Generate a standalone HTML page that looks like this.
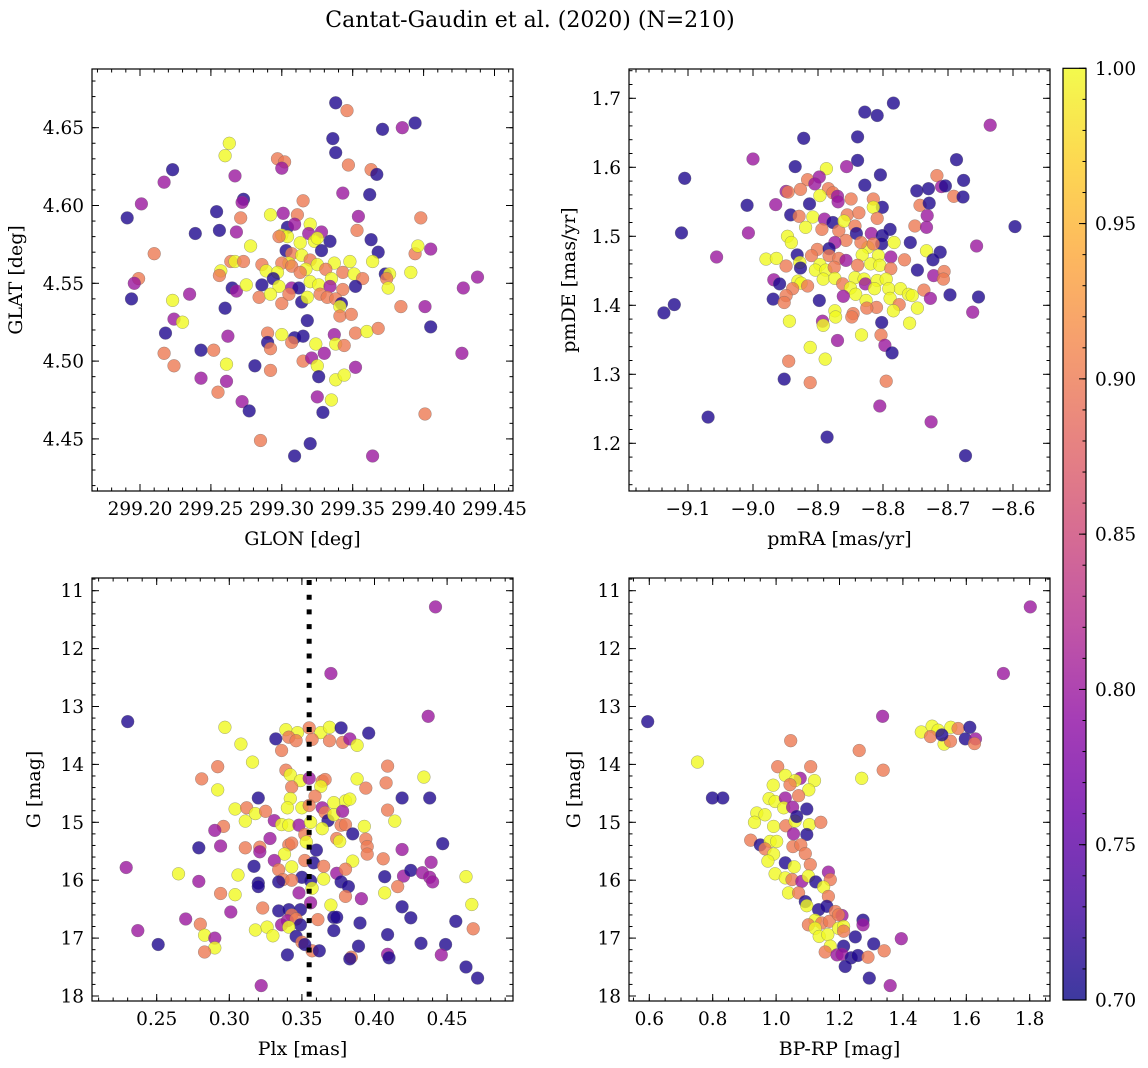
<!DOCTYPE html>
<html><head><meta charset="utf-8"><title>Cantat-Gaudin et al. (2020)</title>
<style>
html,body{margin:0;padding:0;background:#fff;}
svg{display:block;font-family:"DejaVu Serif","Liberation Serif",serif;}
</style></head>
<body>
<svg id="fig" width="1148" height="1068" viewBox="0 0 1148 1068" xmlns="http://www.w3.org/2000/svg">
<text x="530" y="27" font-size="22" text-anchor="middle" fill="#000">Cantat-Gaudin et al. (2020) (N=210)</text>
</svg>
<script>
// ---------------- Panel 1: GLON vs GLAT ----------------
const glon = [299.338,299.346,299.371,299.385,299.394,299.263,299.260,299.336,299.338,299.297,299.302,299.300,299.347,299.363,299.367,299.223,299.217,299.267,299.343,299.362,299.315,299.201,299.191,299.273,299.272,299.254,299.271,299.292,299.301,299.311,299.398,299.354,299.256,299.268,299.239,299.320,299.304,299.309,299.353,299.278,299.300,299.304,299.298,299.319,299.328,299.334,299.323,299.325,299.313,299.363,299.303,299.307,299.314,299.328,299.368,299.394,299.396,299.405,299.210,299.264,299.267,299.273,299.286,299.305,299.300,299.320,299.325,299.337,299.348,299.364,299.257,299.256,299.289,299.297,299.307,299.317,299.313,299.331,299.343,299.351,299.357,299.391,299.373,299.376,299.374,299.199,299.196,299.265,299.268,299.275,299.286,299.294,299.298,299.307,299.312,299.320,299.326,299.335,299.334,299.343,299.352,299.375,299.428,299.438,299.194,299.223,299.235,299.260,299.284,299.292,299.300,299.305,299.314,299.318,299.327,299.332,299.338,299.342,299.341,299.341,299.349,299.384,299.401,299.405,299.318,299.224,299.230,299.218,299.262,299.300,299.290,299.290,299.292,299.309,299.307,299.315,299.337,299.338,299.344,299.324,299.330,299.352,299.360,299.368,299.217,299.224,299.243,299.252,299.261,299.281,299.292,299.315,299.321,299.325,299.326,299.352,299.338,299.344,299.427,299.243,299.261,299.255,299.272,299.277,299.325,299.335,299.329,299.401,299.285,299.320,299.309,299.364];
const glat = [4.666,4.661,4.649,4.650,4.653,4.640,4.632,4.643,4.634,4.630,4.628,4.624,4.626,4.623,4.620,4.623,4.615,4.619,4.608,4.607,4.603,4.601,4.592,4.604,4.602,4.596,4.592,4.594,4.595,4.594,4.592,4.593,4.584,4.583,4.582,4.588,4.586,4.588,4.584,4.574,4.581,4.580,4.580,4.582,4.583,4.577,4.577,4.579,4.576,4.578,4.571,4.569,4.568,4.571,4.570,4.569,4.574,4.572,4.569,4.564,4.564,4.564,4.562,4.563,4.563,4.565,4.562,4.563,4.564,4.564,4.558,4.555,4.558,4.557,4.561,4.559,4.557,4.559,4.557,4.556,4.553,4.557,4.556,4.556,4.553,4.553,4.550,4.547,4.545,4.549,4.549,4.553,4.548,4.547,4.547,4.551,4.549,4.553,4.548,4.546,4.548,4.547,4.547,4.554,4.540,4.539,4.543,4.534,4.541,4.543,4.537,4.543,4.538,4.541,4.543,4.541,4.540,4.537,4.535,4.529,4.530,4.535,4.535,4.522,4.526,4.527,4.525,4.518,4.516,4.517,4.518,4.512,4.508,4.515,4.512,4.516,4.517,4.511,4.510,4.511,4.505,4.518,4.519,4.521,4.505,4.497,4.507,4.507,4.498,4.497,4.494,4.500,4.502,4.497,4.490,4.496,4.488,4.491,4.505,4.489,4.487,4.480,4.474,4.468,4.477,4.475,4.467,4.466,4.449,4.447,4.439,4.439];
const prob1 = [0.71,0.9,0.71,0.8,0.71,1,1,0.71,0.71,0.9,0.9,0.8,0.9,0.9,0.71,0.71,0.8,0.8,0.8,0.71,0.9,0.8,0.71,0.71,0.8,0.71,0.9,1,0.8,0.9,0.9,0.8,0.71,0.8,0.71,1,0.71,0.8,0.9,1,1,1,0.9,0.8,0.8,0.71,1,1,1,0.71,0.71,0.9,1,0.71,0.71,0.9,1,0.8,0.9,0.9,1,0.9,0.9,1,0.9,0.9,1,1,1,1,1,0.9,1,1,0.9,1,0.9,0.9,0.9,1,0.9,1,0.71,1,0.9,0.9,0.8,0.71,0.8,1,0.71,0.71,1,0.8,0.71,1,1,1,0.8,0.9,0.71,1,0.8,0.8,0.71,1,0.8,0.71,0.9,1,0.9,0.9,0.71,1,0.9,0.9,0.9,0.71,1,0.9,0.9,0.9,0.8,0.71,0.71,0.8,1,0.71,0.8,1,0.9,0.71,0.9,0.71,0.9,0.71,0.8,1,0.9,1,0.8,0.9,1,0.9,0.9,0.9,0.71,0.9,1,0.71,0.9,0.9,0.8,1,0.71,0.8,1,1,0.8,0.8,0.8,0.9,0.8,0.71,0.8,1,0.71,0.9,0.9,0.71,0.71,0.8];
const ticks1x = [299.20,299.25,299.30,299.35,299.40,299.45];
const ticks1y = [4.45,4.50,4.55,4.60,4.65];

// ---------------- Panel 2: pmRA vs pmDE ----------------
const pmra = [-8.784,-8.828,-8.809,-8.635,-8.922,-8.839,-9.000,-8.839,-8.687,-8.935,-8.887,-8.856,-9.105,-8.804,-8.717,-8.676,-8.916,-8.898,-8.905,-8.828,-8.748,-8.730,-8.710,-8.704,-8.949,-8.946,-8.927,-8.884,-8.877,-8.870,-8.897,-8.691,-8.677,-9.009,-8.965,-8.913,-8.869,-8.849,-8.815,-8.801,-8.815,-8.743,-8.729,-8.942,-8.929,-8.908,-8.890,-8.877,-8.855,-8.837,-8.809,-8.732,-8.919,-8.894,-8.868,-8.860,-8.843,-8.789,-8.751,-8.733,-8.597,-9.110,-9.007,-8.947,-8.941,-8.857,-8.841,-8.874,-8.818,-8.801,-8.802,-8.783,-8.758,-8.823,-8.834,-8.815,-8.656,-8.901,-8.883,-8.883,-8.733,-8.712,-9.056,-8.980,-8.964,-8.932,-8.910,-8.868,-8.857,-8.832,-8.807,-8.788,-8.767,-8.723,-8.949,-8.928,-8.927,-8.897,-8.904,-8.888,-8.875,-8.839,-8.819,-8.805,-8.788,-8.747,-8.722,-8.706,-8.707,-8.968,-8.959,-8.931,-8.926,-8.916,-8.892,-8.874,-8.862,-8.843,-8.829,-8.827,-8.809,-8.795,-8.850,-8.842,-8.861,-8.813,-8.791,-8.773,-8.761,-8.755,-8.737,-8.939,-8.949,-8.969,-8.952,-8.898,-8.826,-8.810,-8.825,-8.789,-8.775,-8.784,-8.747,-8.727,-8.697,-8.653,-8.662,-9.121,-9.137,-8.944,-8.893,-8.892,-8.874,-8.873,-8.846,-8.848,-8.802,-8.759,-8.833,-8.803,-8.870,-8.797,-8.786,-8.912,-8.889,-8.945,-8.952,-8.912,-8.795,-8.805,-9.069,-8.726,-8.886,-8.673];
const pmde = [1.693,1.680,1.675,1.661,1.642,1.644,1.612,1.610,1.611,1.601,1.598,1.601,1.584,1.589,1.588,1.581,1.582,1.586,1.576,1.574,1.566,1.569,1.572,1.573,1.565,1.564,1.568,1.569,1.563,1.558,1.559,1.558,1.557,1.545,1.546,1.547,1.550,1.554,1.554,1.542,1.542,1.545,1.548,1.531,1.529,1.528,1.525,1.520,1.531,1.534,1.526,1.530,1.513,1.510,1.508,1.522,1.515,1.510,1.515,1.513,1.514,1.505,1.505,1.500,1.491,1.494,1.504,1.491,1.504,1.501,1.489,1.491,1.491,1.484,1.491,1.489,1.486,1.481,1.482,1.472,1.479,1.477,1.470,1.467,1.468,1.473,1.472,1.468,1.465,1.473,1.472,1.470,1.466,1.466,1.457,1.462,1.454,1.459,1.451,1.451,1.455,1.458,1.460,1.458,1.453,1.451,1.443,1.449,1.438,1.437,1.431,1.435,1.432,1.428,1.438,1.439,1.431,1.440,1.438,1.431,1.436,1.438,1.425,1.416,1.413,1.424,1.424,1.424,1.416,1.414,1.422,1.424,1.414,1.409,1.404,1.407,1.407,1.397,1.396,1.410,1.401,1.392,1.396,1.410,1.415,1.412,1.390,1.401,1.389,1.377,1.377,1.371,1.392,1.383,1.388,1.383,1.375,1.374,1.357,1.357,1.349,1.342,1.331,1.339,1.322,1.319,1.293,1.288,1.290,1.254,1.238,1.231,1.209,1.182];
const prob2 = [0.71,0.71,0.71,0.8,0.71,0.71,0.8,0.71,0.71,0.71,1,0.8,0.71,0.71,0.9,0.71,0.9,0.8,0.8,0.71,0.71,0.71,0.8,0.71,0.8,0.9,0.9,0.9,0.9,0.8,1,0.9,0.71,0.71,0.8,0.71,0.8,0.9,0.9,0.71,1,0.9,0.71,0.71,0.9,1,0.8,0.71,0.9,0.9,0.9,0.8,1,0.9,0.9,1,0.9,0.71,0.9,0.8,0.71,0.71,0.8,1,1,0.9,0.71,0.8,0.8,0.71,0.71,1,0.71,1,0.9,0.9,0.8,0.9,0.71,0.9,1,0.71,0.8,1,1,0.71,0.9,0.9,0.8,1,1,0.8,0.9,0.71,0.9,1,0.71,1,1,1,0.9,0.9,1,1,0.9,0.71,0.8,0.9,0.9,0.8,0.71,1,1,0.9,1,1,0.9,1,1,0.8,1,1,1,1,0.8,1,1,1,1,1,0.9,0.9,0.9,0.71,0.9,0.71,1,0.9,0.9,1,0.9,1,1,0.8,0.71,0.71,0.8,0.71,0.71,1,0.8,1,1,1,0.9,0.9,0.71,1,1,0.9,0.8,0.8,0.71,1,1,0.9,0.71,0.9,0.9,0.8,0.71,0.8,0.71,0.71];
const ticks2x = [-9.1,-9.0,-8.9,-8.8,-8.7,-8.6];
const ticks2y = [1.2,1.3,1.4,1.5,1.6,1.7];

// ---------------- Panel 3: Plx vs G ----------------
const plx = [0.442,0.370,0.437,0.230,0.297,0.339,0.347,0.355,0.363,0.369,0.377,0.396,0.332,0.341,0.346,0.357,0.369,0.378,0.383,0.388,0.308,0.336,0.316,0.292,0.281,0.292,0.339,0.342,0.349,0.343,0.355,0.364,0.366,0.363,0.388,0.394,0.409,0.408,0.434,0.320,0.342,0.359,0.372,0.380,0.383,0.419,0.438,0.304,0.312,0.318,0.325,0.340,0.350,0.355,0.364,0.366,0.368,0.372,0.378,0.409,0.414,0.311,0.296,0.290,0.331,0.336,0.341,0.348,0.356,0.364,0.377,0.380,0.393,0.385,0.328,0.352,0.374,0.376,0.394,0.395,0.395,0.279,0.294,0.311,0.321,0.321,0.341,0.343,0.353,0.360,0.338,0.419,0.447,0.331,0.352,0.358,0.343,0.365,0.385,0.406,0.439,0.229,0.265,0.279,0.306,0.317,0.334,0.350,0.337,0.343,0.356,0.365,0.374,0.380,0.407,0.420,0.425,0.433,0.438,0.440,0.463,0.320,0.320,0.334,0.348,0.357,0.377,0.382,0.380,0.391,0.407,0.416,0.294,0.304,0.301,0.323,0.334,0.341,0.349,0.356,0.370,0.343,0.340,0.346,0.336,0.349,0.361,0.372,0.374,0.419,0.425,0.456,0.467,0.270,0.280,0.283,0.290,0.290,0.283,0.237,0.251,0.318,0.326,0.330,0.341,0.346,0.350,0.357,0.362,0.372,0.390,0.409,0.432,0.449,0.468,0.340,0.384,0.383,0.389,0.409,0.410,0.446,0.463,0.471,0.322,0.352];
const g3 = [11.28,12.43,13.17,13.26,13.36,13.40,13.45,13.37,13.45,13.36,13.37,13.46,13.56,13.53,13.59,13.57,13.59,13.62,13.56,13.67,13.65,13.76,13.96,14.04,14.25,14.44,14.10,14.18,14.28,14.39,14.24,14.29,14.26,14.38,14.25,14.41,14.03,14.32,14.22,14.58,14.59,14.55,14.66,14.63,14.60,14.58,14.58,14.77,14.75,14.85,14.81,14.75,14.75,14.71,14.75,14.83,14.97,14.87,14.81,14.79,14.98,14.98,15.07,15.14,14.97,15.04,15.05,15.05,15.00,15.11,15.05,15.04,15.07,15.20,15.28,15.21,15.28,15.33,15.29,15.42,15.55,15.44,15.41,15.44,15.43,15.51,15.39,15.36,15.34,15.48,15.55,15.47,15.37,15.66,15.66,15.70,15.77,15.76,15.67,15.63,15.69,15.78,15.89,16.02,15.91,15.76,15.82,15.95,15.99,16.00,16.01,15.98,15.88,15.81,15.94,15.93,15.83,15.87,15.95,16.03,15.94,16.05,16.11,16.03,16.22,16.14,16.03,16.11,16.28,16.32,16.22,16.11,16.23,16.25,16.55,16.48,16.53,16.51,16.51,16.39,16.43,16.60,16.70,16.67,16.77,16.77,16.68,16.64,16.64,16.46,16.65,16.71,16.42,16.67,16.76,16.95,17.00,17.17,17.24,16.87,17.11,16.86,16.81,16.96,16.81,16.97,17.07,17.22,17.22,16.87,16.74,16.94,17.09,17.11,16.84,17.29,17.33,17.36,17.14,17.28,17.34,17.29,17.50,17.69,17.82,17.11];
const prob3 = [0.8,0.8,0.8,0.71,1,1,1,0.9,1,1,0.71,0.71,0.71,0.9,0.9,0.9,0.9,0.9,0.8,1,1,0.9,1,0.9,0.9,1,0.9,1,1,0.9,0.8,0.9,0.9,1,1,0.9,0.9,0.9,1,0.71,1,0.9,1,1,1,0.71,0.71,1,0.9,1,0.9,1,1,0.9,0.8,0.9,0.71,1,0.8,0.9,1,1,0.9,0.8,0.8,1,1,0.8,1,1,0.9,0.9,1,0.71,0.8,0.9,0.9,1,0.9,0.9,0.9,0.71,0.8,0.9,0.9,0.8,0.9,0.9,1,0.71,1,0.8,0.71,0.8,0.9,0.71,1,0.9,1,0.9,0.8,0.8,1,0.8,1,0.71,0.9,0.71,0.9,0.9,0.71,1,0.8,0.9,0.71,0.8,0.71,0.8,0.8,0.8,1,0.71,0.71,0.71,0.8,1,0.71,0.71,0.9,0.8,1,0.9,0.9,1,0.8,0.9,0.71,0.71,0.71,0.8,1,0.9,0.8,0.9,0.8,0.71,0.9,0.71,0.71,0.71,0.71,0.71,1,0.8,0.9,1,0.8,1,0.9,0.8,0.71,1,1,1,1,0.71,0.9,0.9,0.71,0.71,0.71,0.71,0.71,0.71,0.9,0.71,0.9,0.71,0.71,0.8,0.71,0.8,0.71,0.71,0.8,0.71];
const ticks3x = [0.25,0.30,0.35,0.40,0.45];
const ticksGy = [11,12,13,14,15,16,17,18];
const plxLine = 0.355;

// ---------------- Panel 4: BP-RP vs G ----------------
const bprp = [1.802,1.717,0.595,1.336,1.458,1.492,1.511,1.551,1.574,1.611,1.597,1.629,1.626,1.530,1.550,1.487,1.523,1.046,1.262,0.752,1.338,1.270,0.799,0.832,1.005,1.109,1.029,1.076,1.060,1.121,1.103,0.991,1.044,1.071,0.978,0.997,1.029,1.024,1.052,1.097,0.939,0.965,0.932,0.992,1.031,1.060,1.065,1.105,1.141,1.055,1.097,0.920,0.950,0.981,1.002,0.965,1.053,1.078,1.092,0.992,0.974,1.029,1.108,1.057,0.997,1.029,1.050,1.081,1.102,1.165,1.171,1.125,1.150,1.165,1.039,1.071,1.092,1.097,1.134,1.160,1.187,1.208,1.123,1.102,1.144,1.168,1.197,1.213,1.123,1.136,1.163,1.213,1.274,1.274,1.250,1.308,1.395,1.171,1.155,1.192,1.213,1.208,1.237,1.258,1.290,1.341,1.218,1.294,1.360,1.197];
const g4 = [11.28,12.43,13.26,13.17,13.44,13.34,13.41,13.36,13.38,13.36,13.56,13.56,13.64,13.65,13.60,13.52,13.49,13.59,13.76,13.96,14.10,14.24,14.58,14.58,14.04,14.04,14.19,14.24,14.28,14.28,14.44,14.36,14.35,14.54,14.59,14.64,14.58,14.75,14.74,14.77,14.84,14.87,15.00,15.07,15.06,14.98,14.90,15.04,15.00,15.20,15.21,15.31,15.39,15.33,15.33,15.46,15.42,15.39,15.54,15.55,15.67,15.70,15.73,15.77,15.89,15.96,15.99,16.02,15.93,15.86,15.99,16.03,16.12,16.28,16.22,16.22,16.37,16.44,16.51,16.45,16.54,16.61,16.69,16.77,16.74,16.71,16.83,16.80,16.83,16.97,16.94,16.88,16.69,16.77,16.98,17.10,17.01,17.14,17.24,17.29,17.14,17.28,17.34,17.30,17.33,17.22,17.49,17.69,17.82,16.60];
const prob4 = [0.8,0.8,0.71,0.8,1,1,1,1,0.9,0.71,0.71,0.8,0.9,1,0.9,0.9,0.71,0.9,0.9,1,0.9,1,0.71,0.71,0.9,0.9,1,0.8,1,1,1,1,0.9,0.9,1,1,0.8,1,0.8,0.71,1,1,1,1,0.9,1,0.71,1,0.9,0.8,0.71,0.9,0.71,1,1,0.9,0.9,0.9,0.9,1,1,0.71,0.9,1,1,1,0.9,0.8,1,0.8,0.9,0.71,1,0.9,1,0.9,0.71,1,0.71,0.71,0.9,0.8,1,0.9,0.9,0.9,1,1,1,1,1,0.9,0.71,0.8,0.71,0.71,0.8,1,0.9,0.8,0.71,0.8,0.71,0.71,0.9,0.9,0.71,0.71,0.8,0.9];
const ticks4x = [0.6,0.8,1.0,1.2,1.4,1.6,1.8];

// colorbar
const cbTicks = [0.70,0.75,0.80,0.85,0.90,0.95,1.00];
const cbMin = 0.70, cbMax = 1.00;

// ---------------- rendering ----------------
const NS = "http://www.w3.org/2000/svg";
const svg = document.getElementById('fig');
const plasmaStops = ["#0d0887","#41049d","#6a00a8","#8f0da4","#b12a90","#cc4778","#e16462","#f2844b","#fca636","#fcce25","#f0f921"];
function hex2rgb(h){return [parseInt(h.slice(1,3),16),parseInt(h.slice(3,5),16),parseInt(h.slice(5,7),16)];}
function plasma(t){
  t = Math.max(0,Math.min(1,t));
  const f = t*10, i = Math.min(9,Math.floor(f)), r = f-i;
  const a = hex2rgb(plasmaStops[i]), b = hex2rgb(plasmaStops[i+1]);
  return 'rgb('+a.map((v,k)=>Math.round(v+(b[k]-v)*r)).join(',')+')';
}
function mk(tag, attrs, parent){
  const e = document.createElementNS(NS, tag);
  for (const k in attrs) e.setAttribute(k, attrs[k]);
  (parent||svg).appendChild(e);
  return e;
}
function linMap(v0, p0, scale){ return v => p0 + (v - v0)*scale; }
function fmtMinus(s){ return s.replace('-', '\u2212'); }
const TICKFS = 18.5, LABFS = 19;

const panels = [
  {name:'glon-glat', L:92,R:513,T:69,B:491, xs:linMap(299.20,140,1418), ys:linMap(4.65,127.7,-1556),
   xd:glon, yd:glat, pd:prob1, xt:ticks1x, yt:ticks1y, xdec:2, ydec:2, xmin:0.01, ymin:0.01,
   xlab:'GLON [deg]', ylab:'GLAT [deg]', ylabX:22},
  {name:'pmra-pmde', L:629,R:1050,T:69,B:491, xs:linMap(-9.1,688,650), ys:linMap(1.7,98.3,-690),
   xd:pmra, yd:pmde, pd:prob2, xt:ticks2x, yt:ticks2y, xdec:1, ydec:1, xmin:0.02, ymin:0.02,
   xlab:'pmRA [mas/yr]', ylab:'pmDE [mas/yr]', ylabX:575},
  {name:'plx-g', L:92,R:513,T:578,B:1001, xs:linMap(0.25,156.7,1452), ys:linMap(11,590.7,57.9),
   xd:plx, yd:g3, pd:prob3, xt:ticks3x, yt:ticksGy, xdec:2, ydec:0, xmin:0.01, ymin:0.2,
   xlab:'Plx [mas]', ylab:'G [mag]', ylabX:40, vline:plxLine},
  {name:'color-magnitude', L:629,R:1050,T:578,B:1001, xs:linMap(0.6,649.3,317), ys:linMap(11,590.7,57.9),
   xd:bprp, yd:g4, pd:prob4, xt:ticks4x, yt:ticksGy, xdec:1, ydec:0, xmin:0.05, ymin:0.2,
   xlab:'BP-RP [mag]', ylab:'G [mag]', ylabX:580}
];

panels.forEach(p => {
  const g = mk('g', {});
  
  
  const clipId = 'clip-' + p.name;
  const cp = mk('clipPath', {id: clipId}, g);
  mk('rect', {x:p.L, y:p.T, width:p.R-p.L, height:p.B-p.T}, cp);
  const pts = mk('g', {'clip-path':'url(#'+clipId+')'}, g);
  
  
  for (let i=0;i<p.xd.length;i++){
    const c = mk('circle', {cx:p.xs(p.xd[i]).toFixed(1), cy:p.ys(p.yd[i]).toFixed(1), r:6.4,
      fill:plasma((p.pd[i]-cbMin)/(cbMax-cbMin)), 'fill-opacity':0.8, stroke:'#666', 'stroke-opacity':0.6, 'stroke-width':0.5}, pts);
    
    
  }
  if (p.vline !== undefined){
    const vx = p.xs(p.vline);
    const ln = mk('line', {x1:vx, x2:vx, y1:p.T+2, y2:p.B, stroke:'#000', 'stroke-width':5, 'stroke-dasharray':'5 9.7'}, g);
    
    
  }
  const frame = mk('rect', {x:p.L, y:p.T, width:p.R-p.L, height:p.B-p.T, fill:'none', stroke:'#000', 'stroke-width':1.2}, g);
  
  
  const x0 = p.xt[0], x1 = p.xt[1];
  const xa = (p.xs(x1)-p.xs(x0))/(x1-x0);
  const ya = (p.ys(p.yt[1])-p.ys(p.yt[0]))/(p.yt[1]-p.yt[0]);
  const xlo = x0 + (p.L - p.xs(x0))/xa, xhi = x0 + (p.R - p.xs(x0))/xa;
  const yA = p.yt[0] + (p.T - p.ys(p.yt[0]))/ya, yB = p.yt[0] + (p.B - p.ys(p.yt[0]))/ya;
  const ylo = Math.min(yA,yB), yhi = Math.max(yA,yB);
  const tk = mk('g', {stroke:'#000', 'stroke-width':1}, g);
  
  
  for (let v = Math.ceil(xlo/p.xmin)*p.xmin; v <= xhi; v += p.xmin){
    const x = p.xs(v);
    mk('line',{x1:x,x2:x,y1:p.B,y2:p.B-3.5},tk); mk('line',{x1:x,x2:x,y1:p.T,y2:p.T+3.5},tk);
  }
  for (let v = Math.ceil(ylo/p.ymin)*p.ymin; v <= yhi; v += p.ymin){
    const y = p.ys(v);
    mk('line',{x1:p.L,x2:p.L+3.5,y1:y,y2:y},tk); mk('line',{x1:p.R,x2:p.R-3.5,y1:y,y2:y},tk);
  }
  p.xt.forEach(v => {
    const x = p.xs(v);
    mk('line',{x1:x,x2:x,y1:p.B,y2:p.B-7},tk); mk('line',{x1:x,x2:x,y1:p.T,y2:p.T+7},tk);
    const t = mk('text',{x:x, y:p.B+24, 'font-size':TICKFS, 'text-anchor':'middle', fill:'#000'}, g);
    t.textContent = fmtMinus(v.toFixed(p.xdec));
    
    
  });
  p.yt.forEach(v => {
    const y = p.ys(v);
    mk('line',{x1:p.L,x2:p.L+7,y1:y,y2:y},tk); mk('line',{x1:p.R,x2:p.R-7,y1:y,y2:y},tk);
    const t = mk('text',{x:p.L-8, y:y+6.5, 'font-size':TICKFS, 'text-anchor':'end', fill:'#000'}, g);
    t.textContent = fmtMinus(v.toFixed(p.ydec));
    
    
  });
  const xl = mk('text',{x:(p.L+p.R)/2, y:p.B+54, 'font-size':LABFS, 'text-anchor':'middle', fill:'#000'}, g);
  xl.textContent = p.xlab;
  
  
  const ym = (p.T+p.B)/2;
  const yl = mk('text',{x:p.ylabX, y:ym, 'font-size':LABFS, 'text-anchor':'middle', fill:'#000', transform:'rotate(-90 '+p.ylabX+' '+ym+')'}, g);
  yl.textContent = p.ylab;
  
  
});

// colorbar
(function(){
  const L=1063, R=1086, T=68.3, B=1000;
  const g = mk('g', {});
  
  
  const defs = mk('defs', {}, g);
  const grad = mk('linearGradient', {id:'plasmaGrad', x1:0, y1:1, x2:0, y2:0}, defs);
  plasmaStops.forEach((c,i) => {
    const rgb = hex2rgb(c).map(v => Math.round(v*0.8 + 255*0.2));
    mk('stop', {offset:(i/10), 'stop-color':'rgb('+rgb.join(',')+')'}, grad);
  });
  mk('rect', {x:L, y:T, width:R-L, height:B-T, fill:'url(#plasmaGrad)', stroke:'#000', 'stroke-width':1.2}, g);
  const cy = v => B - (v-cbMin)/(cbMax-cbMin)*(B-T);
  for (let k=0;k<=30;k++){
    const v = cbMin + k*0.01, y = cy(v);
    mk('line',{x1:R,x2:R-3.5,y1:y,y2:y,stroke:'#000','stroke-width':1},g);
  }
  cbTicks.forEach(v => {
    const y = cy(v);
    mk('line',{x1:R,x2:R-7,y1:y,y2:y,stroke:'#000','stroke-width':1},g);
    const t = mk('text',{x:R+9, y:y+6.5, 'font-size':TICKFS, fill:'#000'}, g);
    t.textContent = v.toFixed(2);
    
    
  });
})();
</script>
</body></html>
